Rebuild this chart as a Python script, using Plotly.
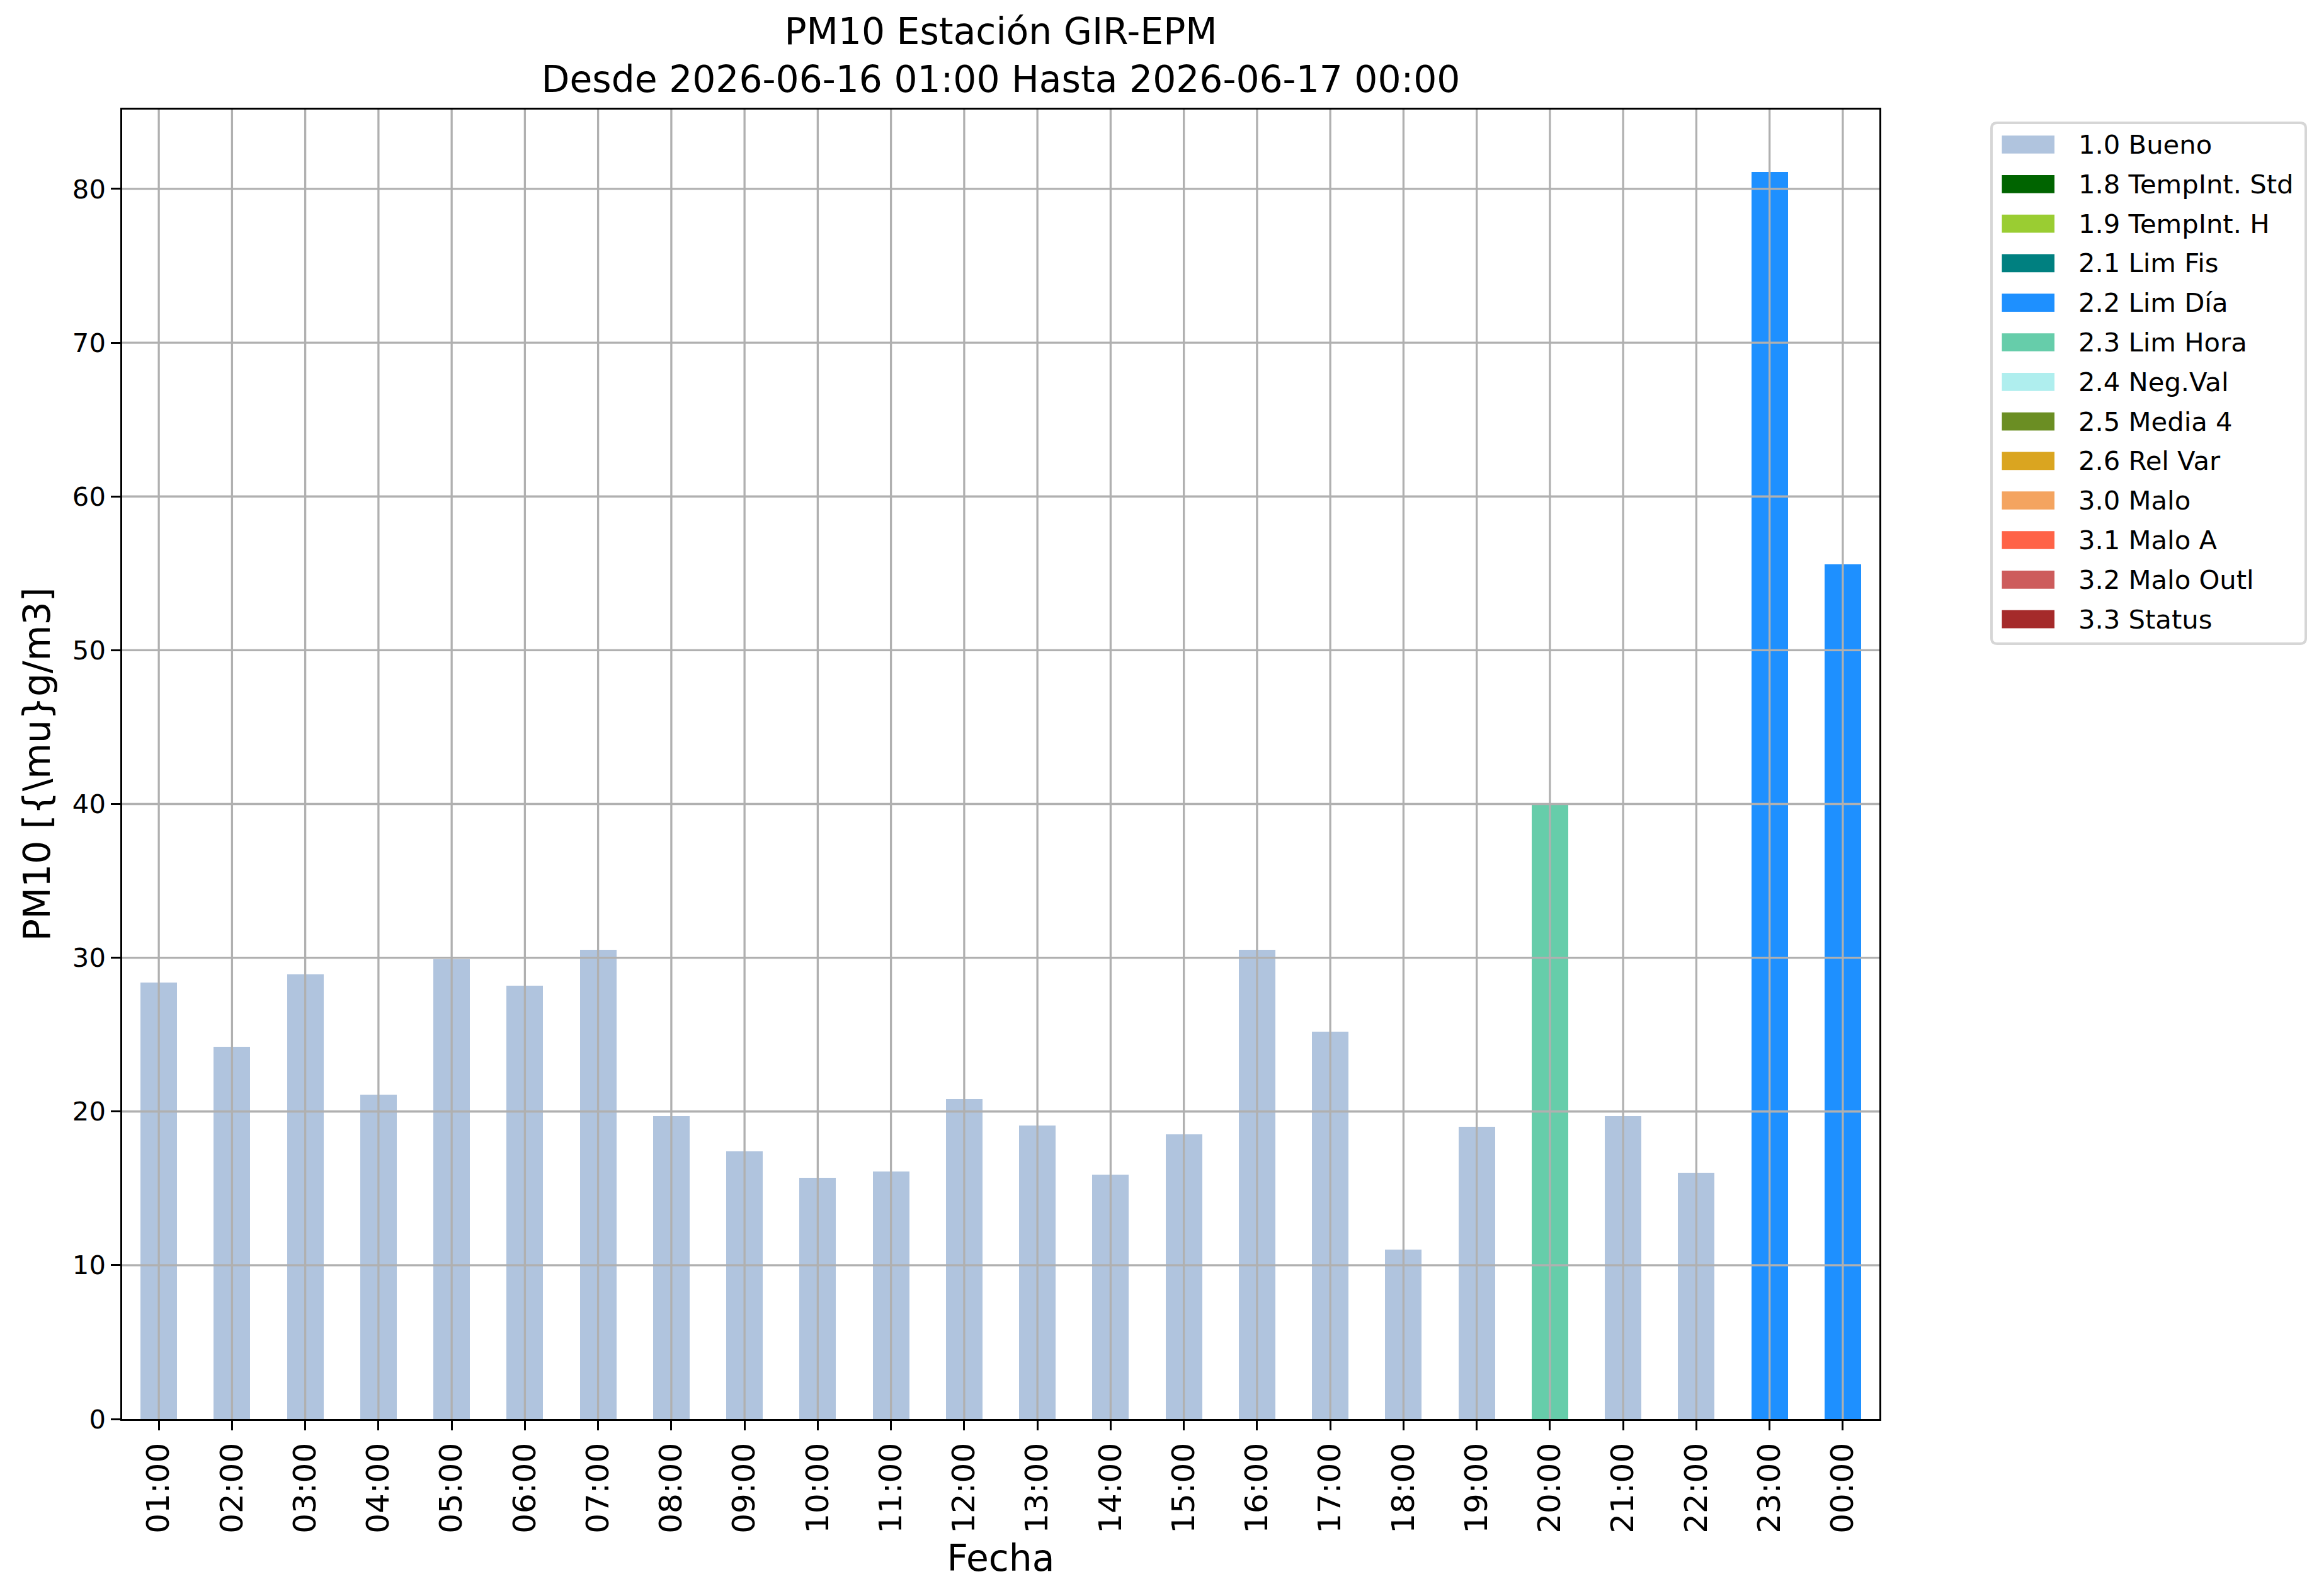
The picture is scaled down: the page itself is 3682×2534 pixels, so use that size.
import plotly.graph_objects as go

# ---------------- data ----------------
hours = ["01:00", "02:00", "03:00", "04:00", "05:00", "06:00", "07:00", "08:00",
         "09:00", "10:00", "11:00", "12:00", "13:00", "14:00", "15:00", "16:00",
         "17:00", "18:00", "19:00", "20:00", "21:00", "22:00", "23:00", "00:00"]
values = [28.4, 24.2, 28.9, 21.1, 29.9, 28.2, 30.5, 19.7,
          17.4, 15.7, 16.1, 20.8, 19.1, 15.9, 18.5, 30.5,
          25.2, 11.0, 19.0, 40.0, 19.7, 16.0, 81.1, 55.6]
flags = ["1.0", "1.0", "1.0", "1.0", "1.0", "1.0", "1.0", "1.0",
         "1.0", "1.0", "1.0", "1.0", "1.0", "1.0", "1.0", "1.0",
         "1.0", "1.0", "1.0", "2.3", "1.0", "1.0", "2.2", "2.2"]

flag_codes = ["1.0", "1.8", "1.9", "2.1", "2.2", "2.3", "2.4", "2.5", "2.6",
              "3.0", "3.1", "3.2", "3.3"]
flag_labels = ["1.0 Bueno", "1.8 TempInt. Std", "1.9 TempInt. H", "2.1 Lim Fis",
               "2.2 Lim Día", "2.3 Lim Hora", "2.4 Neg.Val", "2.5 Media 4",
               "2.6 Rel Var", "3.0 Malo", "3.1 Malo A", "3.2 Malo Outl", "3.3 Status"]
flag_colors = ["#B0C4DE", "#006400", "#9ACD32", "#008080", "#1E90FF", "#66CDAA",
               "#AFEEEE", "#6B8E23", "#DAA520", "#F4A460", "#FF6347", "#CD5C5C",
               "#A52A2A"]

y_ticks = [0, 10, 20, 30, 40, 50, 60, 70, 80]
title_lines = ["PM10 Estación GIR-EPM", "Desde 2026-06-16 01:00 Hasta 2026-06-17 00:00"]
x_title = "Fecha"
y_title = "PM10 [{\\mu}g/m3]"

# ---------------- layout geometry (pixels) ----------------
W, H = 3682, 2534
L, R, T, B = 186, 2976, 166, 2245
PW, PH = R - L, B - T
FONT = "DejaVu Sans"
GRID = "#b0b0b0"
LW = 3.3

def px(xp):
    return (xp - L) / PW

def py(yp):
    return (B - yp) / PH

color_of = dict(zip(flag_codes, flag_colors))

fig = go.Figure()
fig.add_trace(go.Bar(
    x=hours, y=values, width=0.5,
    marker=dict(color=[color_of[f] for f in flags], line=dict(width=0)),
    showlegend=False,
))

shapes = []
# grid lines drawn above bars (as matplotlib does)
for t in y_ticks:
    if t > 0:
        shapes.append(dict(type="line", xref="paper", yref="y", x0=0, x1=1, y0=t, y1=t,
                           line=dict(color=GRID, width=LW), layer="above"))
for i in range(len(hours)):
    shapes.append(dict(type="line", xref="x", yref="paper", x0=i, x1=i, y0=0, y1=1,
                       line=dict(color=GRID, width=LW), layer="above"))

# legend (manual, matplotlib style)
bx0, bx1, by0, by1 = 3154, 3653, 187, 1014
r = 9
path = (f"M {px(bx0 + r)},{py(by0)} L {px(bx1 - r)},{py(by0)} "
        f"Q {px(bx1)},{py(by0)} {px(bx1)},{py(by0 + r)} "
        f"L {px(bx1)},{py(by1 - r)} Q {px(bx1)},{py(by1)} {px(bx1 - r)},{py(by1)} "
        f"L {px(bx0 + r)},{py(by1)} Q {px(bx0)},{py(by1)} {px(bx0)},{py(by1 - r)} "
        f"L {px(bx0)},{py(by0 + r)} Q {px(bx0)},{py(by0)} {px(bx0 + r)},{py(by0)} Z")
shapes.append(dict(type="path", xref="paper", yref="paper", path=path,
                   fillcolor="rgba(255,255,255,0.8)", line=dict(color="#d6d6d6", width=4),
                   layer="above"))
annotations = []
row0, step, sh = 221.5, 62.8, 28.7
for k, (lab, col) in enumerate(zip(flag_labels, flag_colors)):
    cy = row0 + k * step
    shapes.append(dict(type="rect", xref="paper", yref="paper",
                       x0=px(3170.5), x1=px(3254), y0=py(cy + sh / 2), y1=py(cy - sh / 2),
                       fillcolor=col, line=dict(width=0), layer="above"))
    annotations.append(dict(xref="paper", yref="paper", x=px(3290), y=py(cy),
                            xanchor="left", yanchor="middle", text=lab, showarrow=False,
                            font=dict(family=FONT, size=41.7, color="black")))

fig.update_layout(
    width=W, height=H,
    margin=dict(l=L, r=W - R, t=T, b=H - B, autoexpand=False),
    paper_bgcolor="white", plot_bgcolor="white",
    font=dict(family=FONT, color="black"),
    title=dict(text="<br>".join(title_lines), x=px((L + R) / 2), xref="paper",
               xanchor="center", y=1 - 62 / H, yref="container", yanchor="top",
               font=dict(family=FONT, size=58.3, color="black")),
    shapes=shapes, annotations=annotations,
    bargap=0,
)
fig.update_xaxes(
    type="category", range=[-0.5, len(hours) - 0.5],
    tickangle=-90, tickfont=dict(family=FONT, size=50, color="black"),
    ticks="outside", ticklen=14.6, tickwidth=LW, tickcolor="black",
    showline=True, linecolor="black", linewidth=LW, mirror=True,
    showgrid=False, zeroline=False,
    title=dict(text=x_title, font=dict(family=FONT, size=58.3, color="black"), standoff=20),
)
fig.update_yaxes(
    range=[0, 85.16], tickmode="array", tickvals=y_ticks,
    tickfont=dict(family=FONT, size=41.7, color="black"),
    ticks="outside", ticklen=14.6, tickwidth=LW, tickcolor="black",
    showline=True, linecolor="black", linewidth=LW, mirror=True,
    showgrid=False, zeroline=False,
    title=dict(text=y_title, font=dict(family=FONT, size=58.3, color="black"), standoff=17),
)

fig.write_html("out.html")
